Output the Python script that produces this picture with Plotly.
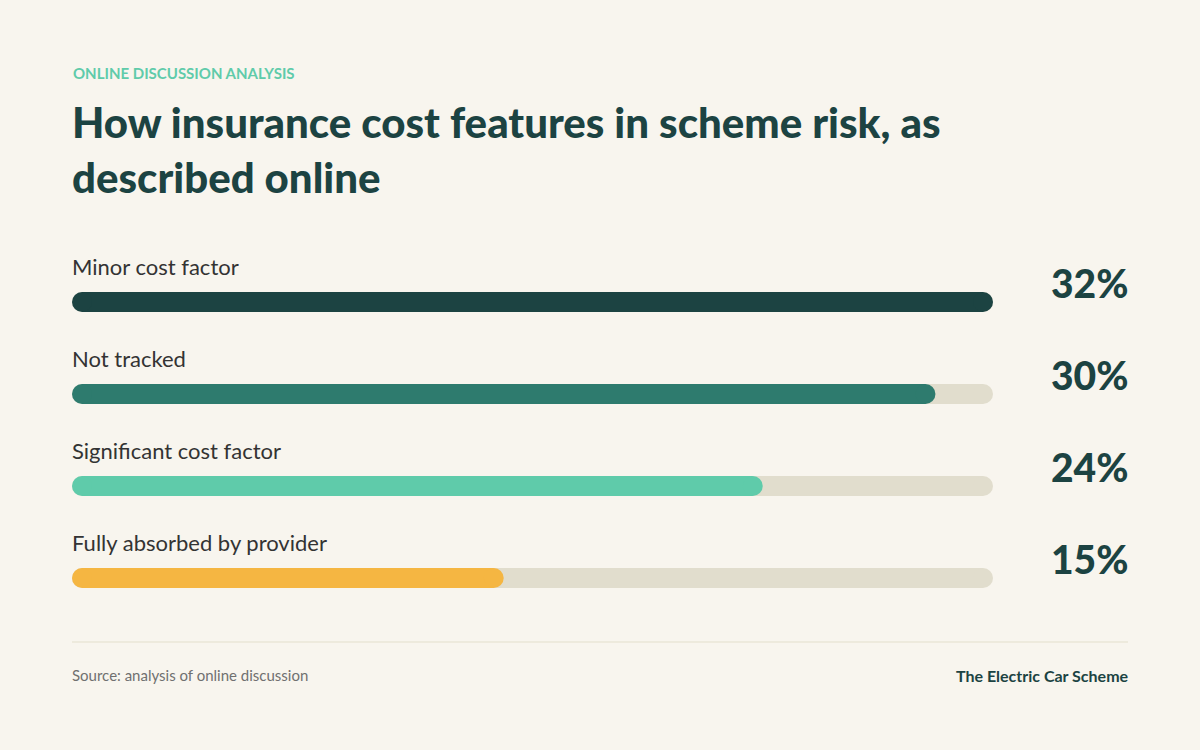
import plotly.graph_objects as go

categories = ["Minor cost factor", "Not tracked", "Significant cost factor", "Fully absorbed by provider"]
values = [32, 30, 24, 15]
colors = ["#1c4342", "#2e7b6e", "#5fcbaa", "#f5b642"]
pct_labels = [f"{v}%" for v in values]
title = "How insurance cost features in scheme risk, as<br>described online"

W, H = 1200, 750
BG = "#f8f5ee"
TRACK = "#e1ddcd"
DARK = "#1c4342"

# bar geometry in pixels
x0_px, x1_px = 72, 993
y_first, y_step = 302, 92
thick = 20

vmax = max(values)
r = (thick / 2) * vmax / (x1_px - x0_px)  # cap radius in data units

fig = go.Figure()

for i, (cat, v, c) in enumerate(zip(categories, values, colors)):
    # background track
    fig.add_trace(go.Scatter(
        x=[r, vmax - r], y=[i, i], mode="lines+markers",
        line=dict(color=TRACK, width=thick),
        marker=dict(color=TRACK, size=thick, line=dict(width=0)),
        hoverinfo="skip", showlegend=False))
    # value bar
    fig.add_trace(go.Scatter(
        x=[r, v - r], y=[i, i], mode="lines+markers",
        line=dict(color=c, width=thick),
        marker=dict(color=c, size=thick, line=dict(width=0)),
        name=cat, hovertemplate=f"{cat}: {v}%<extra></extra>", showlegend=False))

    fig.add_annotation(text=cat, xref="paper", x=x0_px / W, xanchor="left", xshift=-2,
                       yref="y", y=i, yanchor="middle", yshift=36, showarrow=False,
                       font=dict(family="Lato", size=22, color="#333333"))
    fig.add_annotation(text=pct_labels[i], xref="paper", x=1128 / W, xanchor="right", xshift=3,
                       yref="y", y=i, yanchor="middle", yshift=19, showarrow=False,
                       font=dict(family="Lato", size=39, color=DARK, weight=900))

# header
fig.add_annotation(text="ONLINE DISCUSSION ANALYSIS", xref="paper", yref="paper",
                   x=x0_px / W, y=1 - 73 / H, xanchor="left", yanchor="middle", xshift=-1,
                   showarrow=False, font=dict(family="Lato", size=15, color="#5fcbaa", weight=700))
fig.add_annotation(text=title, xref="paper", yref="paper",
                   x=x0_px / W, y=1 - 150 / H, xanchor="left", yanchor="middle", xshift=-2,
                   align="left", showarrow=False,
                   font=dict(family="Lato", size=42, color=DARK, weight=900))

# footer
fig.add_shape(type="line", xref="paper", yref="paper", x0=x0_px / W, x1=1128 / W,
              y0=1 - 642 / H, y1=1 - 642 / H, line=dict(color="#e3dfcc", width=1))
fig.add_annotation(text="Source: analysis of online discussion", xref="paper", yref="paper",
                   x=x0_px / W, y=1 - 675 / H, xanchor="left", yanchor="middle", xshift=-2,
                   showarrow=False, font=dict(family="Lato", size=15, color="#707070"))
fig.add_annotation(text="The Electric Car Scheme", xref="paper", yref="paper",
                   x=1128 / W, y=1 - 675 / H, xanchor="right", yanchor="middle", xshift=3,
                   showarrow=False, font=dict(family="Lato", size=16, color=DARK, weight=700))

y_top = -y_first / y_step
y_bot = (H - y_first) / y_step

fig.update_layout(
    width=W, height=H, paper_bgcolor=BG, plot_bgcolor=BG,
    margin=dict(l=0, r=0, t=0, b=0),
    xaxis=dict(domain=[x0_px / W, x1_px / W], range=[0, vmax], visible=False, fixedrange=True),
    yaxis=dict(domain=[0, 1], range=[y_bot, y_top], visible=False, fixedrange=True),
    hovermode="closest",
)

fig.write_html("out.html", config={"displayModeBar": False},
               post_script="document.body.style.margin='0';")
